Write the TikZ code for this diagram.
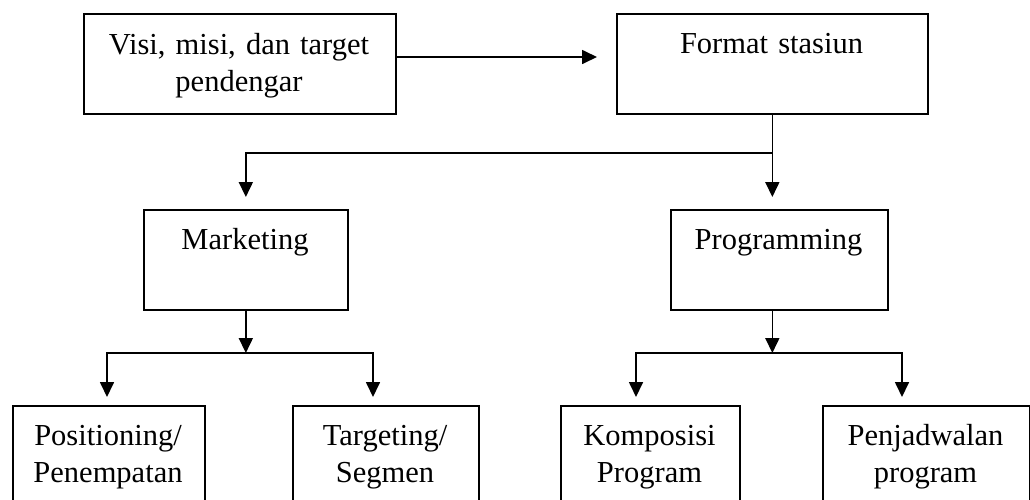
\documentclass[tikz,border=0pt]{standalone}
\usepackage{fontspec}
\setmainfont{Liberation Serif}
\usetikzlibrary{arrows.meta}
\begin{document}
\begin{tikzpicture}[x=1pt,y=-1pt,
  box/.style={draw=black, line width=1.7pt, rectangle, inner sep=0pt, anchor=north west},
  lbl/.style={anchor=base, inner sep=0pt, align=center, font=\fontsize{30.5}{37}\selectfont},
  conn/.style={line width=1.7pt, line cap=rect},
  arr/.style={line width=1.7pt, -{Triangle[length=15pt,width=14pt]}}]
\clip (0,0) rectangle (1030,499);
\fill[white] (0,0) rectangle (1030,499);
% boxes
\node[box, minimum width=312pt, minimum height=100pt] (visi) at (83,13) {};
\node[box, minimum width=311pt, minimum height=100pt] (format) at (616,13) {};
\node[box, minimum width=204pt, minimum height=100pt] (mkt) at (143,209) {};
\node[box, minimum width=217pt, minimum height=100pt] (prog) at (670,209) {};
\node[box, minimum width=192pt, minimum height=110pt] (pos) at (12,405) {};
\node[box, minimum width=186pt, minimum height=110pt] (targ) at (292,405) {};
\node[box, minimum width=179pt, minimum height=110pt] (komp) at (560,405) {};
\node[box, minimum width=207pt, minimum height=110pt] (penj) at (822,405) {};
% texts
\node[lbl, text width=312pt] (visiT) at (239,54) {Visi, misi, dan target\\pendengar};
\node[lbl, text width=311pt] (formatT) at (771.5,53) {Format stasiun};
\node[lbl, text width=204pt] (mktT) at (245,249) {Marketing};
\node[lbl, text width=217pt] (progT) at (778.5,249) {Programming};
\node[lbl, text width=192pt] (posT) at (108,445) {Positioning/\\Penempatan};
\node[lbl, text width=186pt] (targT) at (385,445) {Targeting/\\Segmen};
\node[lbl, text width=179pt] (kompT) at (649.5,445) {Komposisi\\Program};
\node[lbl, text width=207pt] (penjT) at (925.5,445) {Penjadwalan\\program};
% connectors: top
\draw[arr, shorten >=19pt] (visi.east |- 0,57) -- (format.west |- 0,57);
\coordinate (j1) at (format.south |- 0,153);
\draw[conn] (format.south) -- (j1);
\draw[arr, shorten >=12pt] (j1) -- (j1 |- prog.north);
\draw[conn] (j1) -- (j1 -| mkt.north);
\draw[arr, shorten >=12pt] (j1 -| mkt.north) -- (mkt.north);
% marketing branch
\coordinate (j2) at (mkt.south |- 0,353);
\coordinate (j2l) at (107,353);
\coordinate (j2r) at (373,353);
\draw[arr] (mkt.south) -- (j2);
\draw[conn] (j2l) -- (j2r);
\draw[arr, shorten >=8pt] (j2l) -- (j2l |- pos.north);
\draw[arr, shorten >=8pt] (j2r) -- (j2r |- targ.north);
% programming branch
\coordinate (j3) at (j1 |- 0,353);
\coordinate (j3l) at (636,353);
\coordinate (j3r) at (902,353);
\draw[arr] (j1 |- prog.south) -- (j3);
\draw[conn] (j3l) -- (j3r);
\draw[arr, shorten >=8pt] (j3l) -- (j3l |- komp.north);
\draw[arr, shorten >=8pt] (j3r) -- (j3r |- penj.north);
\end{tikzpicture}
\end{document}
